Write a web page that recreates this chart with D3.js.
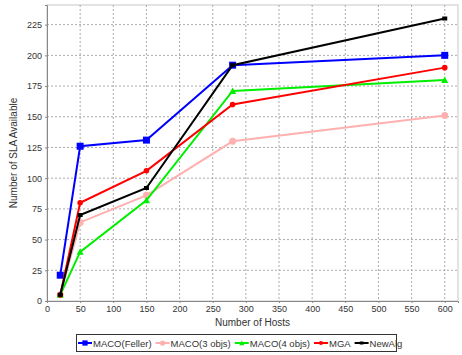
<!DOCTYPE html>
<html>
<head>
<meta charset="utf-8">
<script src="https://cdn.jsdelivr.net/npm/d3@7"></script>
<style>
body { margin: 0; background: #fff; }
text { font-family: "Liberation Sans", Arial, sans-serif; }
</style>
</head>
<body>
<div id="chart"></div>
<script>
const width = 462;
const height = 355;
const margin = {top: 5, right: 4, bottom: 54, left: 47};

const hosts = [20, 50, 150, 280, 600];
const seriesNames = ['MACO(Feller)', 'MACO(3 objs)', 'MACO(4 objs)', 'MGA', 'NewAlg'];
const macoFeller = [21, 126, 131, 192, 200];
const maco3 = [5, 64, 86, 130, 151];
const maco4 = [5, 40, 82, 171, 180];
const mga = [5, 80, 106, 160, 190];
const newAlg = [5, 70, 92, 192, 230];
const xTicks = [0, 50, 100, 150, 200, 250, 300, 350, 400, 450, 500, 550, 600];
const yTicks = [0, 25, 50, 75, 100, 125, 150, 175, 200, 225];

const colors = ['#0000ff', '#ffb0b0', '#00ee00', '#ff0000', '#000000'];
const shapes = ['square', 'circle', 'triangle', 'diamond', 'smallsquare'];
const values = [macoFeller, maco3, maco4, mga, newAlg];

const svg = d3.select('#chart')
    .append('svg')
    .attr('width', width)
    .attr('height', height);

const xScale = d3.scaleLinear()
    .domain([0, 620])
    .range([margin.left, width - margin.right]);
const yScale = d3.scaleLinear()
    .domain([0, 241])
    .range([height - margin.bottom, margin.top]);

// plot border
svg.append('rect')
    .attr('x', margin.left)
    .attr('y', margin.top)
    .attr('width', width - margin.left - margin.right)
    .attr('height', height - margin.top - margin.bottom)
    .attr('fill', '#fff')
    .attr('stroke', '#c8c8c8');

// grid
svg.append('g').selectAll('line')
    .data(xTicks.slice(1))
    .enter().append('line')
    .attr('x1', d => xScale(d)).attr('x2', d => xScale(d))
    .attr('y1', margin.top).attr('y2', height - margin.bottom)
    .attr('stroke', '#aaa').attr('stroke-dasharray', '2,2');
svg.append('g').selectAll('line')
    .data(yTicks.slice(1))
    .enter().append('line')
    .attr('x1', margin.left).attr('x2', width - margin.right)
    .attr('y1', d => yScale(d)).attr('y2', d => yScale(d))
    .attr('stroke', '#aaa').attr('stroke-dasharray', '2,2');

const xAxis = d3.axisBottom(xScale).tickValues(xTicks).tickSize(2).tickPadding(3);
const xAxisG = svg.append('g')
    .attr('transform', 'translate(0,' + (height - margin.bottom) + ')')
    .call(xAxis);
const yAxis = d3.axisLeft(yScale).tickValues(yTicks).tickSize(2).tickPadding(3);
const yAxisG = svg.append('g')
    .attr('transform', 'translate(' + margin.left + ',0)')
    .call(yAxis);
[xAxisG, yAxisG].forEach(g => {
    g.selectAll('text').attr('font-size', 9).attr('fill', '#333')
        .style('font-family', '"Liberation Sans", Arial, sans-serif');
    g.selectAll('line').attr('stroke', '#888');
    g.select('.domain').attr('stroke', '#888');
});

svg.append('text')
    .attr('x', (margin.left + width - margin.right) / 2)
    .attr('y', 326)
    .attr('text-anchor', 'middle')
    .attr('font-size', 10)
    .attr('fill', '#333')
    .text('Number of Hosts');
svg.append('text')
    .attr('transform', 'translate(17,' + ((margin.top + height - margin.bottom) / 2) + ') rotate(-90)')
    .attr('text-anchor', 'middle')
    .attr('font-size', 10)
    .attr('fill', '#333')
    .text('Number of SLA Available');

function drawMarker(g, shape, color, x, y, k) {
    k = k || 1;
    if (shape === 'square') {
        g.append('rect').attr('x', x - 3.5 * k).attr('y', y - 3.5 * k).attr('width', 7 * k).attr('height', 7 * k).attr('fill', color);
    } else if (shape === 'smallsquare') {
        g.append('rect').attr('x', x - 2.5 * k).attr('y', y - 2 * k).attr('width', 5 * k).attr('height', 4 * k).attr('fill', color);
    } else if (shape === 'circle') {
        g.append('circle').attr('cx', x).attr('cy', y).attr('r', 3.5 * k).attr('fill', color);
    } else if (shape === 'triangle') {
        g.append('path').attr('d', 'M' + x + ',' + (y - 3.5 * k) + 'L' + (x + 3.5 * k) + ',' + (y + 3 * k) + 'L' + (x - 3.5 * k) + ',' + (y + 3 * k) + 'Z').attr('fill', color);
    } else {
        g.append('circle').attr('cx', x).attr('cy', y).attr('r', 2.8 * k).attr('fill', color);
    }
}

const line = d3.line()
    .x((d, i) => xScale(hosts[i]))
    .y(d => yScale(d));

values.forEach((vals, s) => {
    const g = svg.append('g');
    g.append('path')
        .attr('d', line(vals))
        .attr('fill', 'none')
        .attr('stroke', colors[s])
        .attr('stroke-width', 2);
    vals.forEach((v, i) => drawMarker(g, shapes[s], colors[s], xScale(hosts[i]), yScale(v)));
});

// legend
const legend = svg.append('g');
legend.append('rect')
    .attr('x', 76.5).attr('y', 334.5)
    .attr('width', 320).attr('height', 17)
    .attr('fill', '#fff').attr('stroke', '#333');
let lx = 78;
seriesNames.forEach((name, s) => {
    const item = legend.append('g');
    item.append('line')
        .attr('x1', lx).attr('x2', lx + 14)
        .attr('y1', 343).attr('y2', 343)
        .attr('stroke', colors[s]).attr('stroke-width', 2);
    drawMarker(item, shapes[s], colors[s], lx + 7, 343, 0.75);
    const t = item.append('text')
        .attr('x', lx + 15).attr('y', 346.5)
        .attr('font-size', 9.5).attr('fill', '#333')
        .attr('textLength', null)
        .text(name);
    lx += 15 + t.node().getComputedTextLength() + 4;
});
</script>
</body>
</html>
